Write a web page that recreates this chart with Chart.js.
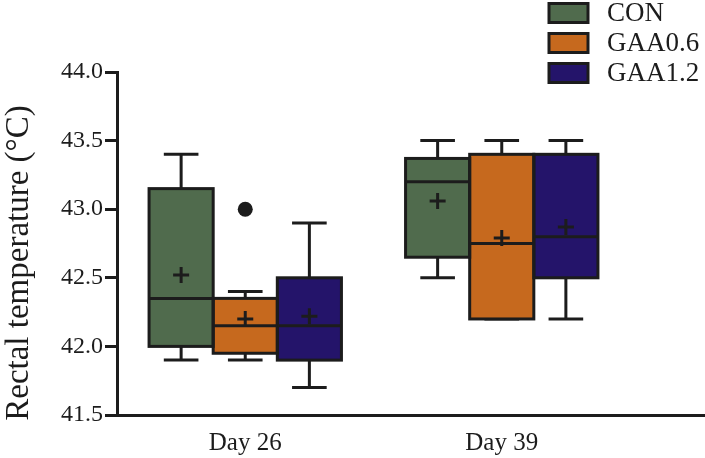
<!DOCTYPE html>
<html>
<head>
<meta charset="utf-8">
<script src="https://cdn.jsdelivr.net/npm/chart.js@4"></script>
<style>
  html, body { margin: 0; padding: 0; background: #fff; overflow: hidden; }
  #wrap { width: 705px; height: 458px; }
</style>
</head>
<body>
<div id="wrap"><canvas id="grafico"></canvas></div>
<script>
// dados: [série][dia]
const dias = ['Day 26', 'Day 39'];
const grupos = ['CON', 'GAA0.6', 'GAA1.2'];
const cores = ['#506b4d', '#c6691e', '#24146a'];
const minimo = [[41.9, 42.5], [41.9, 42.2], [41.7, 42.2]];
const q1 = [[42.0, 42.65], [41.95, 42.2], [41.9, 42.5]];
const mediana = [[42.35, 43.2], [42.15, 42.75], [42.15, 42.8]];
const q3 = [[43.15, 43.37], [42.35, 43.4], [42.5, 43.4]];
const maximo = [[43.4, 43.5], [42.4, 43.5], [42.9, 43.5]];
const media = [[42.52, 43.06], [42.2, 42.79], [42.22, 42.87]];
const outliers = [[[], []], [[43.0], []], [[], []]];
const ticksY = [41.5, 42.0, 42.5, 43.0, 43.5, 44.0];

const tinta = '#1c1c1c';
const fonte = '"Liberation Serif", "Times New Roman", serif';

// caixas, bigodes, medianas etc
const boxPlot = {
    id: 'boxPlot',
    beforeDatasetsDraw(chart) {
        const ctx = chart.ctx;
        const y = chart.scales.y;
        ctx.save();
        ctx.strokeStyle = tinta;
        ctx.lineWidth = 3;
        chart.data.datasets.forEach((ds, s) => {
            chart.getDatasetMeta(s).data.forEach((bar, i) => {
                const yLo = y.getPixelForValue(minimo[s][i]);
                const yHi = y.getPixelForValue(maximo[s][i]);
                const cap = bar.width * 0.27;
                ctx.beginPath();
                ctx.moveTo(bar.x, yLo); ctx.lineTo(bar.x, yHi);
                ctx.moveTo(bar.x - cap, yLo); ctx.lineTo(bar.x + cap, yLo);
                ctx.moveTo(bar.x - cap, yHi); ctx.lineTo(bar.x + cap, yHi);
                ctx.stroke();
            });
        });
        ctx.restore();
    },
    afterDatasetsDraw(chart) {
        const ctx = chart.ctx;
        const y = chart.scales.y;
        ctx.save();
        ctx.strokeStyle = tinta;
        ctx.fillStyle = tinta;
        ctx.lineWidth = 3;
        chart.data.datasets.forEach((ds, s) => {
            chart.getDatasetMeta(s).data.forEach((bar, i) => {
                const left = bar.x - bar.width / 2;
                const top = y.getPixelForValue(q3[s][i]);
                const bottom = y.getPixelForValue(q1[s][i]);
                ctx.strokeRect(left, top, bar.width, bottom - top);
                const ym = y.getPixelForValue(mediana[s][i]);
                ctx.beginPath();
                ctx.moveTo(left, ym); ctx.lineTo(left + bar.width, ym);
                ctx.stroke();
                const ya = y.getPixelForValue(media[s][i]);
                ctx.beginPath();
                ctx.moveTo(bar.x - 8, ya); ctx.lineTo(bar.x + 8, ya);
                ctx.moveTo(bar.x, ya - 8); ctx.lineTo(bar.x, ya + 8);
                ctx.stroke();
                outliers[s][i].forEach(v => {
                    ctx.beginPath();
                    ctx.arc(bar.x, y.getPixelForValue(v), 7.5, 0, Math.PI * 2);
                    ctx.fill();
                });
            });
        });
        ctx.restore();
    },
    afterDraw(chart) {
        const ctx = chart.ctx;
        const area = chart.chartArea;
        ctx.save();
        // eixo x continua até a borda
        ctx.strokeStyle = tinta;
        ctx.lineWidth = 3;
        ctx.beginPath();
        ctx.moveTo(area.right - 2, area.bottom + 0.5);
        ctx.lineTo(chart.width, area.bottom + 0.5);
        ctx.stroke();
        // título do eixo y
        ctx.fillStyle = tinta;
        ctx.font = '33px ' + fonte;
        ctx.textAlign = 'center';
        ctx.textBaseline = 'alphabetic';
        ctx.translate(28, 263);
        ctx.rotate(-Math.PI / 2);
        ctx.fillText('Rectal temperature (°C)', 0, 0);
        ctx.restore();
        // legenda
        ctx.save();
        ctx.font = '27px ' + fonte;
        ctx.textBaseline = 'middle';
        ctx.lineWidth = 3;
        chart.data.datasets.forEach((ds, s) => {
            const cy = 13 + s * 30;
            ctx.fillStyle = ds.backgroundColor;
            ctx.fillRect(549, cy - 9.5, 39, 19);
            ctx.strokeStyle = tinta;
            ctx.strokeRect(549, cy - 9.5, 39, 19);
            ctx.fillStyle = tinta;
            ctx.fillText(ds.label, 607, cy + 1);
        });
        ctx.restore();
    }
};

document.addEventListener('DOMContentLoaded', () => {
    const ctx = document.getElementById('grafico').getContext('2d');
    new Chart(ctx, {
        type: 'bar',
        data: {
            labels: dias,
            datasets: grupos.map((nome, s) => ({
                label: nome,
                data: dias.map((d, i) => [q1[s][i], q3[s][i]]),
                backgroundColor: cores[s],
                borderWidth: 0,
                categoryPercentage: 0.75,
                barPercentage: 1.0
            }))
        },
        options: {
            responsive: true,
            maintainAspectRatio: false,
            animation: false,
            layout: { padding: { top: 72, right: 75, left: 0, bottom: 0 } },
            plugins: {
                legend: { display: false },
                tooltip: { enabled: false }
            },
            scales: {
                x: {
                    grid: { display: false },
                    border: { display: true, color: tinta, width: 3 },
                    ticks: { color: tinta, font: { family: fonte, size: 25 }, padding: 5 },
                    afterFit: (scale) => { scale.height = 43; }
                },
                y: {
                    min: 41.5,
                    max: 44.0,
                    afterBuildTicks: (scale) => { scale.ticks = ticksY.map(v => ({ value: v })); },
                    grid: { drawOnChartArea: false, drawTicks: true, tickLength: 12, color: tinta, lineWidth: 3 },
                    border: { display: true, color: tinta, width: 3 },
                    ticks: {
                        color: tinta,
                        font: { family: fonte, size: 24 },
                        padding: 2,
                        callback: (v) => Number(v).toFixed(1)
                    },
                    afterFit: (scale) => { scale.width = 117; }
                }
            }
        },
        plugins: [boxPlot]
    });
});
</script>
</body>
</html>
